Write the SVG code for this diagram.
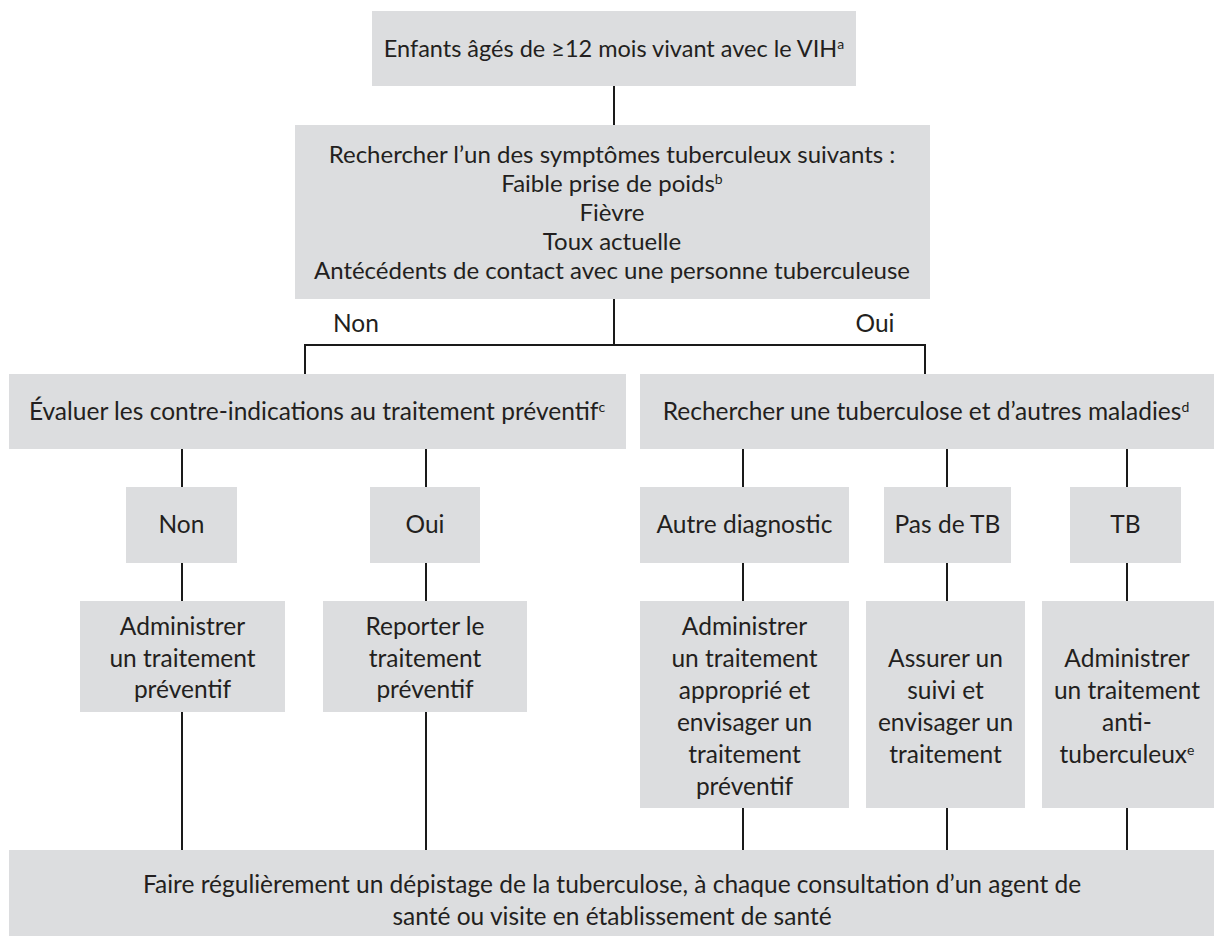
<svg xmlns="http://www.w3.org/2000/svg" width="1214" height="938" viewBox="0 0 1214 938">
<style>
.box{fill:#dcdddf;}
.t{font-family:Lato,"Liberation Sans","DejaVu Sans",sans-serif;font-size:24.5px;fill:#231f20;text-anchor:middle;}
.sup{font-size:14px;}
.c{stroke:#1a1a1a;stroke-width:2;fill:none;}
</style>
<rect width="1214" height="938" fill="#ffffff"/>
<g id="connectors">
<line class="c" x1="614" y1="86" x2="614" y2="125"/>
<line class="c" x1="614" y1="299" x2="614" y2="345"/>
<polyline class="c" points="305,374 305,345 925,345 925,374"/>
<line class="c" x1="182" y1="449" x2="182" y2="487"/>
<line class="c" x1="426" y1="449" x2="426" y2="487"/>
<line class="c" x1="743" y1="449" x2="743" y2="487"/>
<line class="c" x1="947" y1="449" x2="947" y2="487"/>
<line class="c" x1="1127" y1="449" x2="1127" y2="487"/>
<line class="c" x1="182" y1="563" x2="182" y2="601"/>
<line class="c" x1="426" y1="563" x2="426" y2="601"/>
<line class="c" x1="743" y1="563" x2="743" y2="601"/>
<line class="c" x1="947" y1="563" x2="947" y2="601"/>
<line class="c" x1="1127" y1="563" x2="1127" y2="601"/>
<line class="c" x1="182" y1="712" x2="182" y2="850"/>
<line class="c" x1="426" y1="712" x2="426" y2="850"/>
<line class="c" x1="743" y1="808" x2="743" y2="850"/>
<line class="c" x1="947" y1="808" x2="947" y2="850"/>
<line class="c" x1="1127" y1="808" x2="1127" y2="850"/>
<text class="t" x="356" y="332">Non</text>
<text class="t" x="875" y="332">Oui</text>
</g>
<g id="n-enfants">
<rect class="box" x="372" y="11" width="484" height="75"/>
<text class="t" x="614" y="57" style="font-size:23.5px">Enfants âgés de ≥12 mois vivant avec le VIH<tspan class="sup" baseline-shift="super">a</tspan></text>
</g>
<g id="n-symptomes">
<rect class="box" x="295" y="125" width="635" height="174"/>
<text class="t" y="163" style="font-size:24px"><tspan x="612">Rechercher l’un des symptômes tuberculeux suivants :</tspan><tspan x="612" dy="28.9">Faible prise de poids<tspan class="sup" baseline-shift="super">b</tspan></tspan><tspan x="612" dy="28.9">Fièvre</tspan><tspan x="612" dy="28.9">Toux actuelle</tspan><tspan x="612" dy="28.9">Antécédents de contact avec une personne tuberculeuse</tspan></text>
</g>
<g id="n-evaluer">
<rect class="box" x="9" y="374" width="617" height="75"/>
<text class="t" x="317" y="420">Évaluer les contre-indications au traitement préventif<tspan class="sup" baseline-shift="super">c</tspan></text>
</g>
<g id="n-rechercher">
<rect class="box" x="640" y="374" width="574" height="75"/>
<text class="t" x="926" y="420">Rechercher une tuberculose et d’autres maladies<tspan class="sup" baseline-shift="super">d</tspan></text>
</g>
<g id="n-non">
<rect class="box" x="126" y="487" width="111" height="76"/>
<text class="t" x="181.5" y="533">Non</text>
</g>
<g id="n-oui">
<rect class="box" x="370" y="487" width="110" height="76"/>
<text class="t" x="425" y="533">Oui</text>
</g>
<g id="n-autre">
<rect class="box" x="640" y="487" width="209" height="76"/>
<text class="t" x="744.5" y="533">Autre diagnostic</text>
</g>
<g id="n-pasdetb">
<rect class="box" x="884" y="487" width="127" height="76"/>
<text class="t" x="947.5" y="533">Pas de TB</text>
</g>
<g id="n-tb">
<rect class="box" x="1070" y="487" width="111" height="76"/>
<text class="t" x="1125.5" y="533">TB</text>
</g>
<g id="n-administrer-preventif">
<rect class="box" x="80" y="601" width="205" height="111"/>
<text class="t" y="635"><tspan x="182.5">Administrer</tspan><tspan x="182.5" dy="31.5">un traitement</tspan><tspan x="182.5" dy="31.5">préventif</tspan></text>
</g>
<g id="n-reporter">
<rect class="box" x="323" y="601" width="204" height="111"/>
<text class="t" y="635"><tspan x="425">Reporter le</tspan><tspan x="425" dy="31.5">traitement</tspan><tspan x="425" dy="31.5">préventif</tspan></text>
</g>
<g id="n-administrer-approprie">
<rect class="box" x="640" y="601" width="209" height="207"/>
<text class="t" y="635"><tspan x="744.5">Administrer</tspan><tspan x="744.5" dy="32">un traitement</tspan><tspan x="744.5" dy="32">approprié et</tspan><tspan x="744.5" dy="32">envisager un</tspan><tspan x="744.5" dy="32">traitement</tspan><tspan x="744.5" dy="32">préventif</tspan></text>
</g>
<g id="n-assurer">
<rect class="box" x="866" y="601" width="159" height="207"/>
<text class="t" y="667"><tspan x="945.5">Assurer un</tspan><tspan x="945.5" dy="32">suivi et</tspan><tspan x="945.5" dy="32">envisager un</tspan><tspan x="945.5" dy="32">traitement</tspan></text>
</g>
<g id="n-antituberculeux">
<rect class="box" x="1042" y="601" width="172" height="207"/>
<text class="t" y="667"><tspan x="1127">Administrer</tspan><tspan x="1127" dy="32">un traitement</tspan><tspan x="1127" dy="32">anti-</tspan><tspan x="1127" dy="32">tuberculeux<tspan class="sup" baseline-shift="super">e</tspan></tspan></text>
</g>
<g id="n-depistage">
<rect class="box" x="9" y="850" width="1205" height="86"/>
<text class="t" y="893"><tspan x="612">Faire régulièrement un dépistage de la tuberculose, à chaque consultation d’un agent de</tspan><tspan x="612" dy="32">santé ou visite en établissement de santé</tspan></text>
</g>
</svg>
